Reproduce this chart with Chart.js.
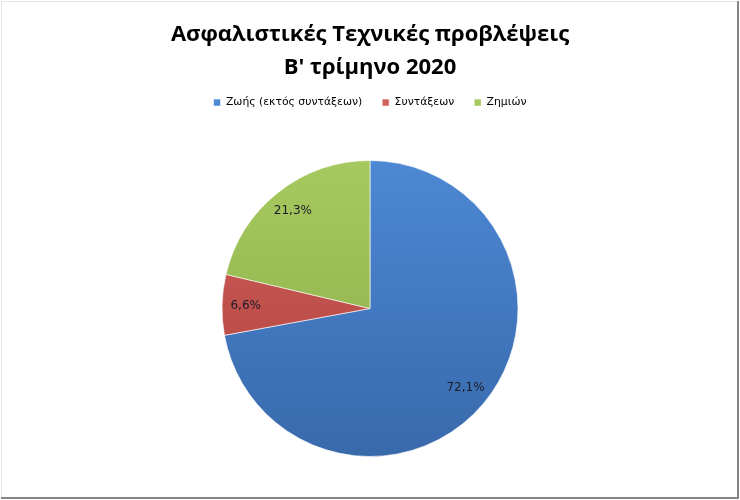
<!DOCTYPE html>
<html>
<head>
<meta charset="utf-8">
<script src="https://cdn.jsdelivr.net/npm/chart.js@4/dist/chart.umd.min.js"></script>
<style>
  html, body { margin: 0; padding: 0; background: #fff; }
  #wrap { width: 740px; height: 500px; position: relative; }
</style>
</head>
<body>
<div id="wrap"><canvas id="pieChart" width="740" height="500"></canvas></div>
<script>
// δεδομένα
const titleText = 'Ασφαλιστικές Τεχνικές προβλέψεις';
const subtitleText = "Β' τρίμηνο 2020";
const categories = ['Ζωής (εκτός συντάξεων)', 'Συντάξεων', 'Ζημιών'];
const shares = [72.1, 6.6, 21.3];
const topColors = ['#4d88d4', '#d0605c', '#a6c95f'];
const bottomColors = ['#3869ab', '#b0403c', '#8aab48'];

// γραμμή πλαισίου γύρω από το γράφημα
const frame = {
    id: 'frame',
    afterDraw(chart) {
        const c = chart.ctx;
        c.save();
        c.strokeStyle = '#e6e6e6';
        c.lineWidth = 1;
        c.beginPath();
        c.moveTo(1.5, chart.height - 1);
        c.lineTo(1.5, 1.5);
        c.lineTo(chart.width - 1, 1.5);
        c.stroke();
        c.strokeStyle = '#858585';
        c.lineWidth = 2;
        c.beginPath();
        c.moveTo(chart.width - 2, 1);
        c.lineTo(chart.width - 2, chart.height - 2);
        c.lineTo(1, chart.height - 2);
        c.stroke();
        c.restore();
    }
};

// ετικέτες ποσοστών μέσα στα κομμάτια
const sliceLabels = {
    id: 'sliceLabels',
    afterDatasetsDraw(chart) {
        const c = chart.ctx;
        const meta = chart.getDatasetMeta(0);
        c.save();
        c.font = '12px "DejaVu Sans"';
        c.fillStyle = '#1c1c28';
        c.textAlign = 'center';
        c.textBaseline = 'middle';
        meta.data.forEach((arc, i) => {
            const p = arc.getProps(['x', 'y', 'startAngle', 'endAngle', 'outerRadius'], true);
            const mid = (p.startAngle + p.endAngle) / 2;
            const r = p.outerRadius * 0.84;
            const txt = shares[i].toFixed(1).replace('.', ',') + '%';
            c.fillText(txt, p.x + Math.cos(mid) * r, p.y + Math.sin(mid) * r);
        });
        c.restore();
    }
};

function sliceFill(context) {
    const chart = context.chart;
    const area = chart.chartArea;
    const i = context.dataIndex;
    if (!area) return topColors[i];
    const cy = (area.top + area.bottom) / 2;
    const g = chart.ctx.createLinearGradient(0, cy - 148, 0, cy + 148);
    g.addColorStop(0, topColors[i]);
    g.addColorStop(1, bottomColors[i]);
    return g;
}

const ctx = document.getElementById('pieChart').getContext('2d');
new Chart(ctx, {
    type: 'pie',
    data: {
        labels: categories,
        datasets: [{
            data: shares,
            backgroundColor: sliceFill,
            borderColor: 'rgba(255,255,255,0.6)',
            borderWidth: 1,
            radius: 148
        }]
    },
    options: {
        responsive: false,
        animation: false,
        layout: { padding: { top: 0, bottom: 1, left: 0, right: 0 } },
        plugins: {
            title: {
                display: true,
                text: titleText,
                color: '#000',
                font: { family: '"Open Sans"', size: 22, weight: 'bold', lineHeight: 1.2 },
                padding: { top: 22, bottom: 0 }
            },
            subtitle: {
                display: true,
                text: subtitleText,
                color: '#000',
                font: { family: '"Open Sans"', size: 22, weight: 'bold', lineHeight: 0.9 },
                padding: { top: 9, bottom: 0 }
            },
            legend: {
                position: 'top',
                labels: {
                    color: '#000',
                    font: { family: '"DejaVu Sans"', size: 10.8 },
                    boxWidth: 7,
                    boxHeight: 7,
                    padding: 20
                }
            },
            tooltip: { enabled: false }
        }
    },
    plugins: [frame, sliceLabels]
});
</script>
</body>
</html>
